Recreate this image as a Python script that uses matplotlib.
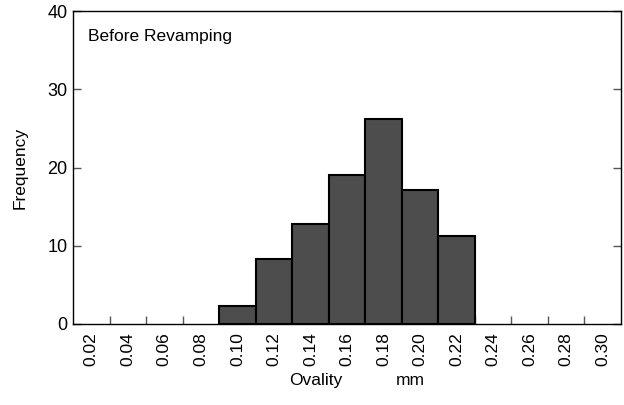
import matplotlib
matplotlib.use("Agg")
import matplotlib.pyplot as plt
import numpy as np

plt.rcParams['font.family'] = ['Liberation Sans', 'DejaVu Sans']

bin_centers = [0.10, 0.12, 0.14, 0.16, 0.18, 0.20, 0.22]
frequencies = [2.3, 8.3, 12.8, 19.0, 26.2, 17.1, 11.2]
tick_labels = ["0.02", "0.04", "0.06", "0.08", "0.10", "0.12", "0.14", "0.16",
               "0.18", "0.20", "0.22", "0.24", "0.26", "0.28", "0.30"]
label_positions = [0.02 + 0.02 * i for i in range(len(tick_labels))]
bin_edges_ticks = [0.03 + 0.02 * i for i in range(14)]

fig = plt.figure(figsize=(6.24, 4.05), dpi=100)
ax = fig.add_axes([73/624, 81/405, 548/624, 313/405])

ax.bar(bin_centers, frequencies, width=0.02, color='#4d4d4d', edgecolor='black', linewidth=1.5, zorder=3)

ax.set_xlim(0.01, 0.31)
ax.set_ylim(0, 40)

ax.set_xticks(label_positions)
ax.set_xticklabels(tick_labels, rotation=90, fontsize=12.5)
ax.tick_params(axis='x', which='major', length=0, pad=6)
ax.set_xticks(bin_edges_ticks, minor=True)
ax.tick_params(axis='x', which='minor', direction='in', length=6, width=1, color='#555555')

ax.set_yticks([0, 10, 20, 30, 40])
ax.tick_params(axis='y', which='major', direction='in', length=6, width=1, labelsize=13,
               right=True, color='#555555', pad=4)

for s in ax.spines.values():
    s.set_linewidth(1.0)

ax.set_ylabel("Frequency", fontsize=12.5, labelpad=14)
fig.text(316/624, 1 - 385/405, "Ovality", fontsize=12.5, ha='center', va='baseline')
fig.text(410/624, 1 - 385/405, "mm", fontsize=12.5, ha='center', va='baseline')
ax.text(0.027, 0.92, "Before Revamping", transform=ax.transAxes, fontsize=12.5, va='center', ha='left')

fig.savefig("out.png", dpi=100)
